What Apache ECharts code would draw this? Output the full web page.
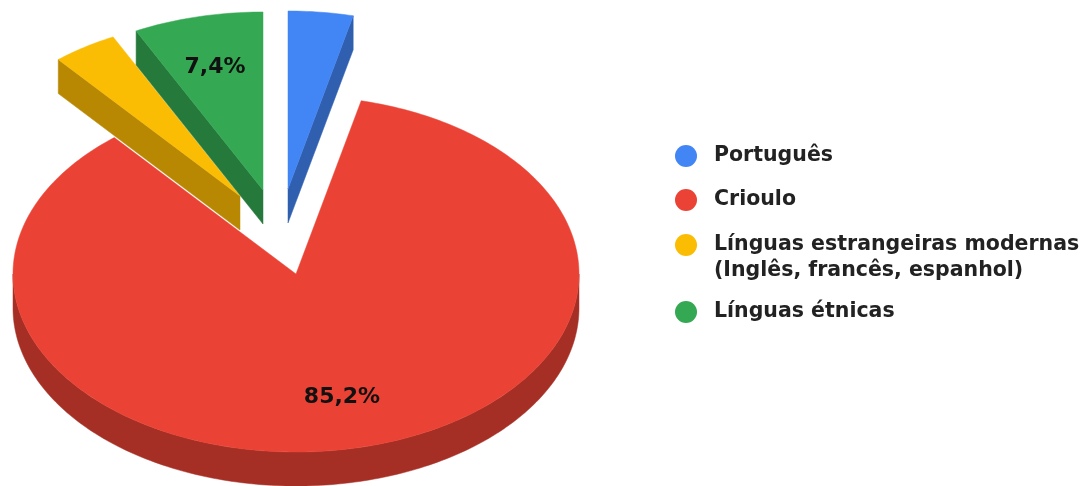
<!DOCTYPE html>
<html>
<head>
<meta charset="utf-8">
<style>html,body{margin:0;padding:0;background:#fff}#chart{width:1092px;height:486px}</style>
<script src="https://cdn.jsdelivr.net/npm/echarts@6/dist/echarts.min.js"></script>
</head>
<body>
<div id="chart"></div>
<script>
// Línguas faladas: percentagem por língua
const categories = ['Português', 'Crioulo', 'Línguas estrangeiras modernas\n(Inglês, francês, espanhol)', 'Línguas étnicas'];
const shares = [3.7, 85.2, 3.7, 7.4];
const valueLabels = ['', '85,2%', '', '7,4%'];

// Cores e geometria do disco em perspetiva
const topColors = ['#4285F4', '#EA4335', '#FBBC04', '#34A853'];
const sideColors = ['#2F5FAE', '#A62F25', '#B88803', '#257A3B'];
const apexes = [[288, 189], [296, 274], [240, 196], [263, 190]];
const labelOffsets = [null, [46, 123], null, [-48, -123]];
const RX = 283, RY = 178, DEPTH = 34;
const total = shares.reduce((a, b) => a + b, 0);

function point(apex, deg, drop) {
  const r = deg * Math.PI / 180;
  return [apex[0] + RX * Math.sin(r), apex[1] - RY * Math.cos(r) + (drop || 0)];
}
function arc(apex, from, to, drop) {
  const pts = [];
  const n = Math.max(2, Math.ceil(Math.abs(to - from)));
  for (let i = 0; i <= n; i++) pts.push(point(apex, from + (to - from) * i / n, drop));
  return pts;
}
function poly(points, fill) {
  return { type: 'polygon', shape: { points }, style: { fill, stroke: fill, lineWidth: 0.5 } };
}
function cutFace(apex, deg, fill) {
  return poly([apex, point(apex, deg), point(apex, deg, DEPTH), [apex[0], apex[1] + DEPTH]], fill);
}

function sliceRenderer(index) {
  return function (params, api) {
    const before = shares.slice(0, index).reduce((a, b) => a + b, 0);
    const start = before / total * 360;
    const end = start + api.value(0) / total * 360;
    const apex = apexes[index];
    const children = [];

    // Faces cortadas viradas para o observador
    if (start > 180) children.push(cutFace(apex, start, sideColors[index]));
    if (end < 180) children.push(cutFace(apex, end, sideColors[index]));

    // Parede exterior: só a metade inferior do arco fica visível
    const wallFrom = Math.max(start, 90), wallTo = Math.min(end, 270);
    if (wallTo > wallFrom) {
      children.push(poly(arc(apex, wallFrom, wallTo, 0).concat(arc(apex, wallTo, wallFrom, DEPTH)), sideColors[index]));
    }

    children.push(poly([apex].concat(arc(apex, start, end, 0)), topColors[index]));

    if (valueLabels[index]) {
      children.push({
        type: 'text',
        style: {
          x: apex[0] + labelOffsets[index][0],
          y: apex[1] + labelOffsets[index][1],
          text: valueLabels[index],
          fill: '#111',
          font: 'bold 22px "DejaVu Sans"',
          align: 'center',
          verticalAlign: 'middle'
        }
      });
    }
    return { type: 'group', children };
  };
}

const legendBase = {
  orient: 'vertical',
  left: 670,
  icon: 'circle',
  itemWidth: 22,
  itemHeight: 22,
  itemGap: 18,
  selectedMode: false,
  textStyle: {
    color: '#222',
    fontFamily: '"DejaVu Sans"',
    fontWeight: 'bold',
    fontSize: 20.5,
    lineHeight: 26,
    padding: [0, 0, 0, 12]
  }
};

const chart = echarts.init(document.getElementById('chart'), null, { renderer: 'canvas' });
chart.setOption({
  backgroundColor: '#fff',
  animation: false,
  tooltip: { show: false },
  legend: [
    Object.assign({}, legendBase, { top: 138, data: [categories[0], categories[1]] }),
    // A primeira linha do texto fica alinhada com o marcador
    Object.assign({}, legendBase, {
      top: 201,
      data: [categories[2]],
      formatter: name => '\n' + name
    }),
    Object.assign({}, legendBase, { top: 294, data: [categories[3]] })
  ],
  series: categories.map((name, i) => ({
    type: 'custom',
    name,
    coordinateSystem: 'none',
    silent: true,
    itemStyle: { color: topColors[i] },
    data: [[shares[i]]],
    renderItem: sliceRenderer(i)
  }))
});
</script>
</body>
</html>
